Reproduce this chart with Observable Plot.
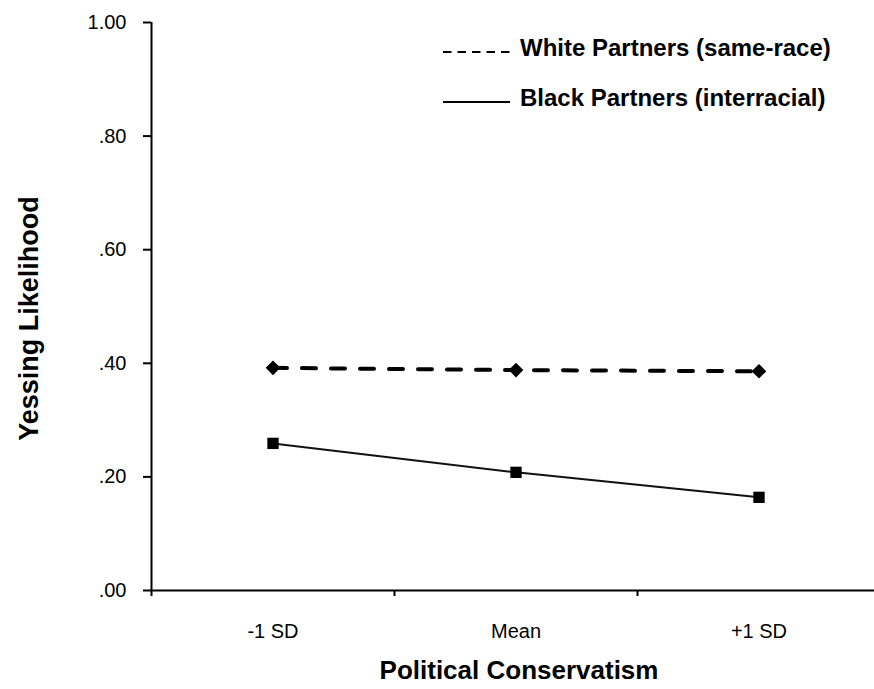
<!DOCTYPE html>
<html>
<head>
<meta charset="utf-8">
<script src="https://cdn.jsdelivr.net/npm/d3@7"></script>
<script src="https://cdn.jsdelivr.net/npm/@observablehq/plot@0.6"></script>
<style>
  html, body { margin: 0; padding: 0; background: #fff; }
  #wrap { position: relative; width: 874px; height: 689px; font-family: "Liberation Sans", Arial, sans-serif; }
  #legend { position: absolute; left: 0; top: 0; pointer-events: none; }
</style>
</head>
<body>
<div id="wrap"></div>
<script>
// ---- data ----
const categories = ["-1 SD", "Mean", "+1 SD"];
const whiteValues = [0.392, 0.388, 0.386];
const blackValues = [0.259, 0.208, 0.164];
const seriesNames = ["White Partners (same-race)", "Black Partners (interracial)"];
const yTicks = [0, 0.2, 0.4, 0.6, 0.8, 1];
const yTickLabels = [".00", ".20", ".40", ".60", ".80", "1.00"];
const xTitle = "Political Conservatism";
const yTitle = "Yessing Likelihood";

const white = categories.map((c, i) => ({pos: i + 0.5, value: whiteValues[i]}));
const black = categories.map((c, i) => ({pos: i + 0.5, value: blackValues[i]}));

const chart = Plot.plot({
  width: 874,
  height: 689,
  marginLeft: 151,
  marginRight: 0,
  marginTop: 22,
  marginBottom: 99,
  style: {fontFamily: "'Liberation Sans', Arial, sans-serif", fontSize: "20px", color: "#000", background: "#fff", overflow: "visible"},
  x: {domain: [0, 3], range: [151, 880]},
  y: {domain: [0, 1]},
  marks: [
    Plot.axisY({ticks: yTicks, tickFormat: d => yTickLabels[yTicks.indexOf(d)], tickSize: 8, tickPadding: 17, strokeWidth: 2, label: null, fontSize: 20}),
    Plot.axisX({ticks: [0, 1, 2], tickSize: 6, strokeWidth: 2, tickFormat: () => "", label: null}),
    Plot.axisX({ticks: [0.5, 1.5, 2.5], tickSize: 0, tickPadding: 33, tickFormat: d => categories[Math.floor(d)], label: null, fontSize: 20}),
    Plot.ruleX([0], {strokeWidth: 2}),
    Plot.ruleY([0], {strokeWidth: 2}),
    Plot.line(white, {x: "pos", y: "value", stroke: "#000", strokeWidth: 4, strokeDasharray: "14,15"}),
    Plot.line(black, {x: "pos", y: "value", stroke: "#111", strokeWidth: 2}),
    Plot.dot(white, {x: "pos", y: "value", symbol: "diamond2", fill: "#000", stroke: null, r: 6.6}),
    Plot.dot(black, {x: "pos", y: "value", symbol: "square", fill: "#000", stroke: null, r: 6.4}),
    Plot.text([xTitle], {frameAnchor: "bottom", dx: 6, dy: 80, lineAnchor: "middle", fontSize: 26, fontWeight: "bold", fill: "#000"}),
    Plot.text([yTitle], {frameAnchor: "left", textAnchor: "middle", rotate: -90, dx: -122, dy: 12, lineAnchor: "middle", fontSize: 27, fontWeight: "bold", fill: "#000"})
  ]
});
document.getElementById("wrap").appendChild(chart);

// ---- legend overlay ----
const ns = "http://www.w3.org/2000/svg";
const leg = document.createElementNS(ns, "svg");
leg.setAttribute("id", "legend");
leg.setAttribute("width", 874);
leg.setAttribute("height", 140);
const legendItems = [
  {name: seriesNames[0], dash: "8.5,6", ly: 52, ty: 47.5},
  {name: seriesNames[1], dash: null, ly: 102, ty: 97.5}
];
legendItems.forEach(it => {
  const ln = document.createElementNS(ns, "line");
  ln.setAttribute("x1", 443); ln.setAttribute("x2", 510);
  ln.setAttribute("y1", it.ly); ln.setAttribute("y2", it.ly);
  ln.setAttribute("stroke", "#000"); ln.setAttribute("stroke-width", 2);
  if (it.dash) ln.setAttribute("stroke-dasharray", it.dash);
  leg.appendChild(ln);
  const tx = document.createElementNS(ns, "text");
  tx.setAttribute("x", 520); tx.setAttribute("y", it.ty);
  tx.setAttribute("dy", "0.35em");
  tx.setAttribute("font-size", 24);
  tx.setAttribute("font-weight", "bold");
  tx.setAttribute("font-family", "'Liberation Sans', Arial, sans-serif");
  tx.textContent = it.name;
  leg.appendChild(tx);
});
document.getElementById("wrap").appendChild(leg);
</script>
</body>
</html>
